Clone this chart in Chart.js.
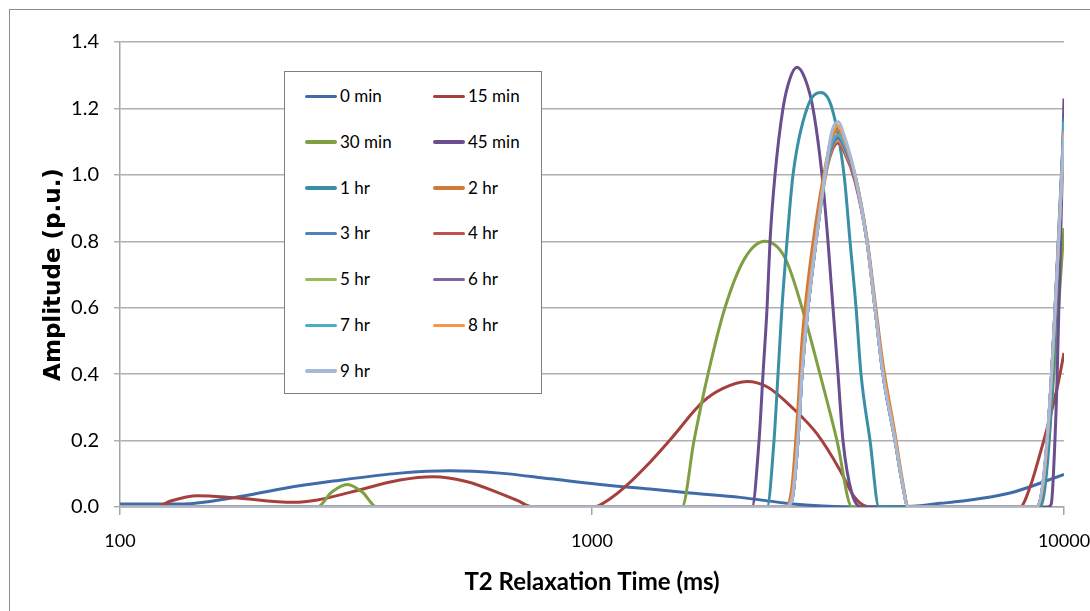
<!DOCTYPE html>
<html><head><meta charset="utf-8">
<script src="https://cdn.jsdelivr.net/npm/chart.js@4.4.1/dist/chart.umd.min.js"></script>
<style>
html,body{margin:0;padding:0;background:#fff;}
#wrap{position:relative;width:1090px;height:611px;overflow:hidden;background:#fff;}
#frame{position:absolute;left:9px;top:9px;width:1200px;height:800px;border:1px solid #8c8c8c;}
canvas{position:absolute;left:0;top:0;}
#legend{position:absolute;left:284px;top:71px;width:258px;height:323px;box-sizing:border-box;border:1.5px solid #7f7f7f;background:#fff;font-family:Lato, sans-serif;font-size:17px;color:#000;}
.item{position:absolute;height:24px;line-height:24px;white-space:nowrap;}
.swatch{position:absolute;left:0;top:10.5px;width:32px;height:3.5px;border-radius:2px;}
.lbl{position:absolute;left:35px;top:0;}
</style></head><body>
<div id="wrap"><div id="frame"></div><canvas id="c" width="1090" height="611"></canvas><div id="legend"></div></div>
<script>
// ---- data (T2 in ms, amplitude in p.u.) ----
const xTicks = [100, 1000, 10000];
const yMax = 1.4, yStep = 0.2;

const t2_0min  = [100, 136, 174, 222, 283, 392, 500, 638, 815, 1040, 1327, 1613, 2059, 2627, 3087, 3939, 4788, 5462, 6022, 7686, 10000];
const amp_0min = [0.009, 0.009, 0.028, 0.056, 0.078, 0.102, 0.109, 0.102, 0.085, 0.068, 0.054, 0.042, 0.029, 0.010, 0.003, 0.0, 0.002, 0.011, 0.017, 0.042, 0.098];

const t2_15min  = [100, 119, 128, 146, 174, 233, 262, 307, 392, 460, 544, 638, 694, 750, 1005, 1092, 1163, 1307, 1463, 1719, 1895, 2131, 2349, 2666, 2998, 3353, 3573, 3752, 3939, 8069, 8472, 8896, 9340, 9711, 10000];
const amp_15min = [0, 0, 0.018, 0.034, 0.028, 0.014, 0.021, 0.044, 0.081, 0.091, 0.076, 0.041, 0.02, 0, 0, 0.025, 0.055, 0.125, 0.202, 0.317, 0.357, 0.378, 0.362, 0.297, 0.22, 0.111, 0.036, 0.006, 0, 0, 0.06, 0.16, 0.27, 0.37, 0.464];

const t2_30min  = [100, 262, 281, 303, 326, 350, 1551, 1645, 1761, 1913, 2110, 2326, 2564, 2786, 3041, 3304, 3555, 8767, 9027, 9340, 10000];
const amp_30min = [0, 0, 0.045, 0.068, 0.045, 0, 0, 0.2, 0.4, 0.6, 0.75, 0.80, 0.75, 0.6, 0.4, 0.2, 0, 0, 0.06, 0.25, 0.84];

const t2_45min  = [100, 2183, 2259, 2303, 2349, 2383, 2442, 2539, 2627, 2719, 2826, 2939, 3071, 3162, 3240, 3321, 3402, 3555, 3752, 9250, 9400, 9482, 9666, 10000];
const amp_45min = [0, 0, 0.2, 0.4, 0.6, 0.8, 1.0, 1.2, 1.29, 1.324, 1.29, 1.2, 1.0, 0.8, 0.6, 0.4, 0.2, 0.04, 0, 0, 0.01, 0.08, 0.38, 1.23];

const t2_1hr  = [100, 2349, 2430, 2478, 2526, 2589, 2666, 2854, 3057, 3225, 3420, 3521, 3626, 3715, 3882, 4055, 8900, 9115, 9400, 10000];
const amp_1hr = [0, 0, 0.2, 0.4, 0.6, 0.8, 1.0, 1.2, 1.248, 1.2, 1.0, 0.8, 0.6, 0.4, 0.2, 0, 0, 0.06, 0.3, 1.17];

const t2_late  = [100, 2560, 2652, 2731, 2786, 2869, 2983, 3116, 3220, 3321, 3420, 3608, 3824, 3977, 4135, 4386, 4560, 4673, 8767, 9027, 9340, 10000];
const amp_2hr  = [0, 0, 0.06, 0.3, 0.5, 0.68, 0.86, 1.02, 1.11, 1.135, 1.10, 1.0, 0.81, 0.62, 0.43, 0.22, 0.07, 0, 0, 0.07, 0.32, 1.14];
const amp_3hr  = [0, 0, 0.02, 0.2, 0.4, 0.6, 0.8, 1.0, 1.09, 1.115, 1.09, 0.99, 0.8, 0.6, 0.4, 0.2, 0.06, 0, 0, 0.07, 0.32, 1.13];
const amp_4hr  = [0, 0, 0.02, 0.2, 0.4, 0.6, 0.8, 0.99, 1.07, 1.096, 1.07, 0.98, 0.8, 0.6, 0.4, 0.2, 0.06, 0, 0, 0.07, 0.32, 1.12];
const amp_5hr  = [0, 0, 0.02, 0.2, 0.4, 0.6, 0.8, 0.99, 1.08, 1.105, 1.08, 0.99, 0.8, 0.6, 0.4, 0.2, 0.06, 0, 0, 0.07, 0.32, 1.12];
const amp_6hr  = [0, 0, 0.02, 0.2, 0.4, 0.6, 0.8, 1.0, 1.085, 1.11, 1.085, 0.99, 0.8, 0.6, 0.4, 0.2, 0.06, 0, 0, 0.07, 0.32, 1.15];
const amp_7hr  = [0, 0, 0.02, 0.2, 0.4, 0.6, 0.8, 1.0, 1.095, 1.12, 1.095, 1.0, 0.8, 0.6, 0.4, 0.2, 0.06, 0, 0, 0.07, 0.32, 1.16];
const amp_8hr  = [0, 0, 0.03, 0.22, 0.42, 0.62, 0.81, 1.01, 1.12, 1.148, 1.11, 1.0, 0.8, 0.6, 0.41, 0.21, 0.06, 0, 0, 0.07, 0.32, 1.13];
const amp_9hr  = [0, 0, 0.02, 0.2, 0.4, 0.6, 0.8, 1.0, 1.13, 1.16, 1.12, 1.0, 0.8, 0.6, 0.4, 0.2, 0.06, 0, 0, 0.08, 0.33, 1.12];

const seriesNames  = ['0 min', '15 min', '30 min', '45 min', '1 hr', '2 hr', '3 hr', '4 hr', '5 hr', '6 hr', '7 hr', '8 hr', '9 hr'];
const seriesColors = ['#3F6CA8', '#A5403D', '#7F9F43', '#6A4E8F', '#3A8FA6', '#D07A35', '#4F81BD', '#C0504D', '#9BBB59', '#8064A2', '#4BACC6', '#F79646', '#A7B8D8'];
const seriesT2  = [t2_0min, t2_15min, t2_30min, t2_45min, t2_1hr, t2_late, t2_late, t2_late, t2_late, t2_late, t2_late, t2_late, t2_late];
const seriesAmp = [amp_0min, amp_15min, amp_30min, amp_45min, amp_1hr, amp_2hr, amp_3hr, amp_4hr, amp_5hr, amp_6hr, amp_7hr, amp_8hr, amp_9hr];

// ---- chart ----
const n = seriesNames.length;
const datasets = seriesNames.map((name, i) => ({
  label: name,
  data: seriesT2[i].map((x, j) => ({x: x, y: seriesAmp[i][j]})),
  borderColor: seriesColors[i],
  backgroundColor: seriesColors[i],
  borderWidth: 3,
  pointRadius: 0,
  pointHoverRadius: 0,
  fill: false,
  cubicInterpolationMode: 'monotone',
  order: n - 1 - i
}));

new Chart(document.getElementById('c'), {
  type: 'line',
  data: {datasets},
  options: {
    responsive: false,
    devicePixelRatio: 1,
    animation: false,
    events: [],
    layout: {padding: {left: 0, top: 42, right: 26, bottom: 0}},
    plugins: {legend: {display: false}, tooltip: {enabled: false}},
    scales: {
      x: {
        type: 'logarithmic',
        min: xTicks[0], max: xTicks[xTicks.length - 1],
        afterBuildTicks: s => { s.ticks = xTicks.map(v => ({value: v})); },
        afterFit: s => { s.height = 104; s.paddingLeft = 0; s.paddingRight = 0; },
        ticks: {callback: v => String(v), font: {family: 'Lato', size: 18}, color: '#000', padding: 15, maxRotation: 0, autoSkip: false},
        grid: {drawOnChartArea: false, drawTicks: true, tickLength: 8, color: '#A6A6A6', lineWidth: 1.5},
        border: {color: '#A6A6A6', width: 1.5},
        title: {display: true, text: 'T2 Relaxation Time (ms)', font: {family: 'Lato', size: 24, weight: 'bold'}, color: '#000', padding: {top: 0, bottom: 14}}
      },
      y: {
        min: 0, max: yMax,
        afterFit: s => { s.width = 120; },
        ticks: {stepSize: yStep, callback: v => v.toFixed(1), font: {family: 'Lato', size: 20}, color: '#000', padding: 15},
        grid: {color: '#B0B0B0', lineWidth: 1.5, tickLength: 6},
        border: {color: '#A6A6A6', width: 1.5},
        title: {display: true, text: 'Amplitude (p.u.)', font: {family: 'DejaVu Sans', size: 23, weight: 'bold'}, color: '#000', padding: {top: 40, bottom: 0}}
      }
    }
  }
});

// ---- legend (2 columns inside plot) ----
const leg = document.getElementById('legend');
seriesNames.forEach((name, i) => {
  const col = i % 2, row = Math.floor(i / 2);
  const it = document.createElement('div');
  it.className = 'item';
  it.style.left = (col === 0 ? 20 : 148) + 'px';
  it.style.top = (24 + row * 45.8 - 12) + 'px';
  const sw = document.createElement('div');
  sw.className = 'swatch';
  sw.style.background = seriesColors[i];
  const lb = document.createElement('span');
  lb.className = 'lbl';
  lb.textContent = name;
  it.appendChild(sw); it.appendChild(lb);
  leg.appendChild(it);
});
</script>
</body></html>
